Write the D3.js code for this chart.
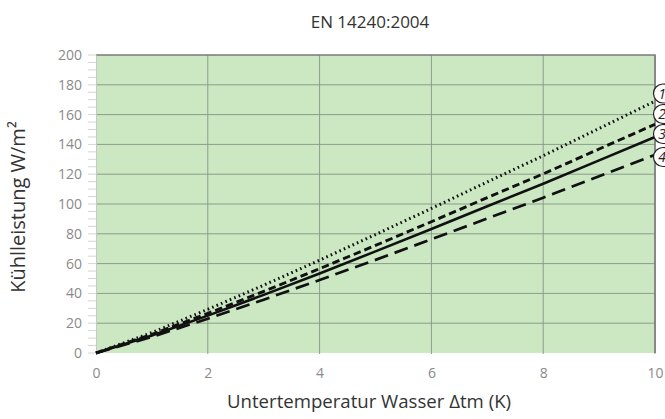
<!DOCTYPE html>
<html><head><meta charset="utf-8">
<script src="https://cdn.jsdelivr.net/npm/d3@7/dist/d3.min.js"></script>
<style>body{margin:0;background:#fff}svg{display:block}</style>
</head><body>
<script>
const xValues = [0,1,2,3,4,5,6,7,8,9,10];
const series1 = [0,13.7,29.3,45.5,62.3,79.5,97.0,114.8,132.4,150.7,169];   // dotted
const series2 = [0,12.5,26.6,41.3,56.6,72.2,88.1,104.3,120.2,136.9,153.5]; // short dash
const series3 = [0,11.8,25.1,39.0,53.4,68.2,83.2,98.5,113.6,129.3,145];    // solid
const series4 = [0,10.8,23.0,35.8,49.0,62.5,76.3,90.3,104.2,118.6,133];    // long dash
const seriesLabels = ["1","2","3","4"];
const xTicks = [0,2,4,6,8,10];
const yTicks = [0,20,40,60,80,100,120,140,160,180,200];
const title = "EN 14240:2004";
const xTitle = "Untertemperatur Wasser Δtm (K)";
const yTitle = "Kühlleistung W/m²";

const W=665,H=419;
const svg=d3.select("body").append("svg").attr("width",W).attr("height",H);
const font="'Open Sans', sans-serif";
const x=d3.scaleLinear().domain([0,10]).range([96,655]);
const y=d3.scaleLinear().domain([0,200]).range([353,55]);

svg.append("rect").attr("x",x(0)).attr("y",y(200)).attr("width",x(10)-x(0)).attr("height",y(0)-y(200)).attr("fill","#cbe8c3");

// grid
svg.append("g").selectAll("line").data(yTicks.filter(d=>d>0&&d<200)).join("line")
  .attr("x1",x(0)).attr("x2",x(10)).attr("y1",d=>y(d)).attr("y2",d=>y(d))
  .attr("stroke","#8c9c8a").attr("stroke-width",1);
svg.append("g").selectAll("line").data(xTicks.filter(d=>d>0)).join("line")
  .attr("x1",d=>x(d)).attr("x2",d=>x(d)).attr("y1",y(200)).attr("y2",y(0)+1)
  .attr("stroke","#8c9c8a").attr("stroke-width",1);
// top and right border
svg.append("path").attr("d",`M${x(0)},${y(200)}H${x(10)}V${y(0)}`).attr("fill","none").attr("stroke","#7a7a7a").attr("stroke-width",1.6);

// y axis
const yAxis=d3.axisLeft(y).tickValues(yTicks).tickSize(0).tickPadding(14);
const gy=svg.append("g").attr("transform",`translate(${x(0)},0)`).call(yAxis);
gy.select(".domain").attr("stroke","#c8c8c8");
gy.selectAll("text").attr("font-family",font).attr("font-size",14).attr("fill","#8a8a8a");
const minor=d3.range(0,201,5);
svg.append("g").selectAll("line").data(minor).join("line")
  .attr("x1",x(0)-8).attr("x2",x(0)).attr("y1",d=>y(d)).attr("y2",d=>y(d))
  .attr("stroke","#d4d4d4").attr("stroke-width",1);

// x axis
const xAxis=d3.axisBottom(x).tickValues(xTicks).tickSize(0).tickPadding(15);
const gx=svg.append("g").attr("transform",`translate(0,${y(0)})`).call(xAxis);
gx.select(".domain").remove();
gx.selectAll("text").attr("font-family",font).attr("font-size",14).attr("fill","#8a8a8a");

// lines
const allSeries=[series1,series2,series3,series4];
const dashes=["1.6,3.2","7.5,4",null,"14,7"];
const widths=[3,2.9,2.6,2.7];
const line=d3.line().x((d,i)=>x(xValues[i])).y(d=>y(d));
allSeries.forEach((s,k)=>{
  svg.append("path").datum(s).attr("d",line).attr("fill","none").attr("stroke","#111")
    .attr("stroke-width",widths[k]).attr("stroke-dasharray",dashes[k]).attr("stroke-linecap","butt");
});

// circled labels
const labelY=[93.5,114,134,157];
seriesLabels.forEach((t,k)=>{
  const g=svg.append("g");
  g.append("circle").attr("cx",663).attr("cy",labelY[k]).attr("r",9.5).attr("fill","#fff").attr("stroke","#222").attr("stroke-width",1.2);
  g.append("text").attr("x",662).attr("y",labelY[k]+5).attr("text-anchor","middle").attr("font-family",font).attr("font-style","italic").attr("font-size",14).attr("fill","#222").text(t);
});

// titles
svg.append("text").attr("x",370).attr("y",28).attr("text-anchor","middle").attr("font-family",font).attr("font-size",17).attr("fill","#333").text(title);
svg.append("text").attr("x",369).attr("y",408).attr("text-anchor","middle").attr("font-family",font).attr("font-size",18.6).attr("fill","#333").text(xTitle);
svg.append("text").attr("transform","translate(25,207) rotate(-90)").attr("text-anchor","middle").attr("font-family",font).attr("font-size",20).attr("fill","#333").text(yTitle);
</script>
</body></html>
